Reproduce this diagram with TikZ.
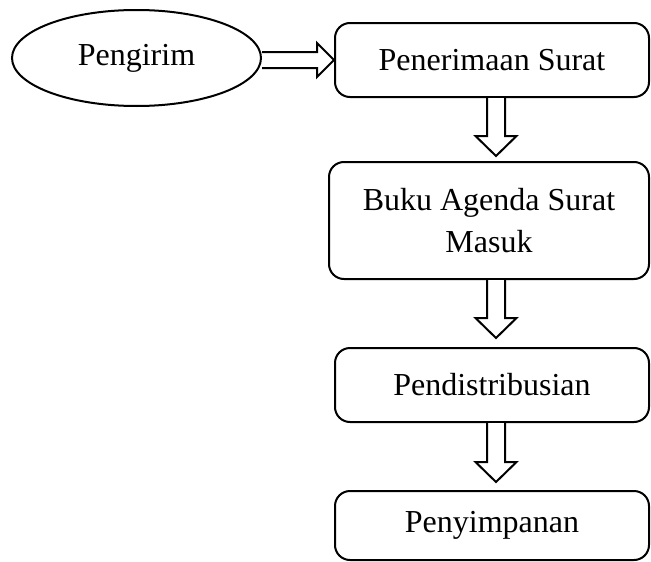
\documentclass[tikz,border=0pt]{standalone}
\usepackage{fontspec}
\setmainfont{Liberation Serif}
\usetikzlibrary{shapes.geometric,calc}
\tikzset{
  every node/.style={font=\fontsize{32}{42}\selectfont},
  box/.style={draw, line width=2pt, rounded corners=15pt, inner sep=0pt, align=center},
  oval/.style={draw, ellipse, line width=2pt, inner sep=0pt},
  blk/.style={draw, line width=2pt, fill=white, line join=miter}
}
\newcommand\vblk[3]{%
  \draw[blk] let \p1=(ax |- #1), \p2=(ax |- #2) in
    (\x1-9pt,\y1) -- (\x1-9pt,\y2+#3pt+20pt) -- (\x1-20.5pt,\y2+#3pt+20pt)
    -- (\x1,\y2+#3pt) -- (\x1+20.5pt,\y2+#3pt+20pt) -- (\x1+9pt,\y2+#3pt+20pt)
    -- (\x1+9pt,\y1);
}
\begin{document}
\begin{tikzpicture}[x=1pt,y=1pt]
\useasboundingbox (0,0) rectangle (651,-562);
\node[oval, minimum width=249pt, minimum height=96pt] (e) at (136.5,-58) {Pengirim};
\node[box, minimum width=314pt, minimum height=74pt] (b1) at (492,-60) {Penerimaan Surat};
\node[box, minimum width=320pt, minimum height=117pt] (b2) at (489,-220.5) {Buku Agenda Surat\\Masuk};
\node[box, minimum width=314pt, minimum height=74pt] (b3) at (492,-385) {Pendistribusian};
\node[box, minimum width=314pt, minimum height=69pt] (b4) at (492,-525.5) {Penyimpanan};
\coordinate (ax) at (496,0);
% horizontal block arrow
\draw[blk] let \p1=(e.east), \p2=(b1.west) in
  (\x1,\y2+8pt) -- (\x2-17pt,\y2+8pt) -- (\x2-17pt,\y2+17pt) -- (\x2,\y2)
  -- (\x2-17pt,\y2-17pt) -- (\x2-17pt,\y2-8pt) -- (\x1,\y2-8pt);
\vblk{b1.south}{b2.north}{5}
\vblk{b2.south}{b3.north}{9}
\vblk{b3.south}{b4.north}{8}
\end{tikzpicture}
\end{document}
